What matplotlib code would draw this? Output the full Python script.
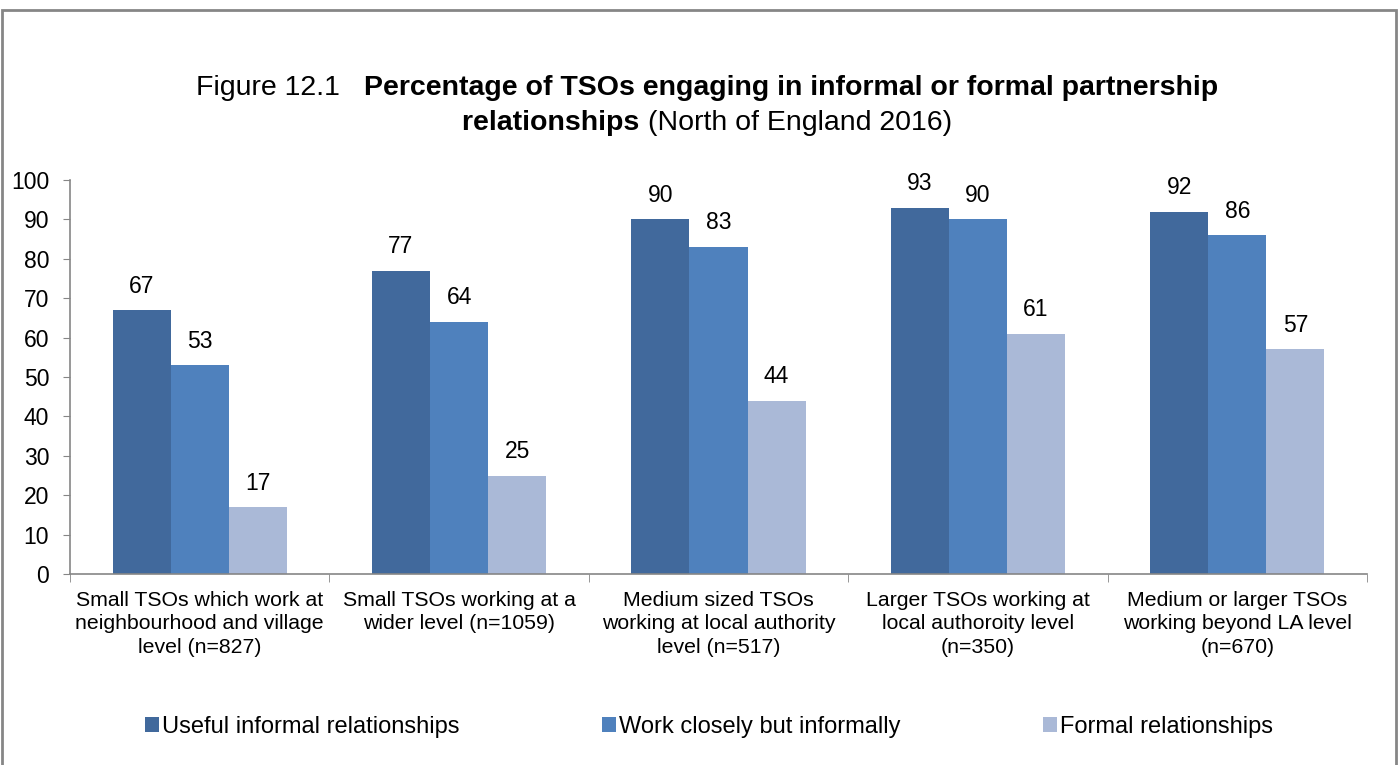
import numpy as np
import matplotlib
matplotlib.use("Agg")
import matplotlib.pyplot as plt
from matplotlib.patches import Rectangle, Patch

plt.rcParams['font.family'] = ['Liberation Sans', 'DejaVu Sans']

# data
categories = [
    "Small TSOs which work at\nneighbourhood and village\nlevel (n=827)",
    "Small TSOs working at a\nwider level (n=1059)",
    "Medium sized TSOs\nworking at local authority\nlevel (n=517)",
    "Larger TSOs working at\nlocal authoroity level\n(n=350)",
    "Medium or larger TSOs\nworking beyond LA level\n(n=670)",
]
series_names = ["Useful informal relationships", "Work closely but informally", "Formal relationships"]
useful_informal = [67, 77, 90, 93, 92]
work_closely = [53, 64, 83, 90, 86]
formal = [17, 25, 44, 61, 57]
colors = ['#41699C', '#4F81BD', '#AAB9D7']

fig = plt.figure(figsize=(14, 7.65), dpi=100)
ax = fig.add_axes([70 / 1400, 1 - 574 / 765, (1367 - 70) / 1400, (574 - 180) / 765])

x = np.arange(len(categories))
w = 0.224
axis_gray = '#868686'
for i, (vals, name) in enumerate(zip([useful_informal, work_closely, formal], series_names)):
    bars = ax.bar(x + (i - 1) * w, vals, width=w, color=colors[i], label=name, zorder=2)
    for b, v in zip(bars, vals):
        ax.annotate(f"{v}", (b.get_x() + b.get_width() / 2, v), xytext=(0, 9),
                    textcoords='offset points', ha='center', va='bottom', fontsize=16.5)

ax.set_xlim(-0.5, len(categories) - 0.5)
ax.set_ylim(0, 100)
ax.set_yticks(range(0, 101, 10))
ax.tick_params(axis='y', labelsize=16.5, length=5, color=axis_gray, pad=10)
ax.set_xticks(x)
ax.set_xticklabels(categories, fontsize=15.3, linespacing=1.3)
ax.tick_params(axis='x', length=0, pad=12)
ax.set_xticks(np.arange(-0.5, len(categories)), minor=True)
ax.tick_params(axis='x', which='minor', length=6, color=axis_gray)
for s in ['top', 'right']:
    ax.spines[s].set_visible(False)
for s in ['left', 'bottom']:
    ax.spines[s].set_color(axis_gray)
    ax.spines[s].set_linewidth(1.2)

# outer border of chart area
fig.patches.append(Rectangle((2 / 1400, -0.05), 1394 / 1400, 1.05 - 10 / 765,
                             transform=fig.transFigure, fill=False,
                             edgecolor=axis_gray, linewidth=2))

# title with mixed weights
fs = 20.5
renderer = fig.canvas.get_renderer()
y1 = 1 - 88 / 765
y2 = 1 - 123 / 765
p1 = fig.text(0, y1, "Figure 12.1   ", fontsize=fs, va='center')
p2 = fig.text(0, y1, "Percentage of TSOs engaging in informal or formal partnership",
              fontsize=fs, fontweight='bold', va='center')
q1 = fig.text(0, y2, "relationships ", fontsize=fs, fontweight='bold', va='center')
q2 = fig.text(0, y2, "(North of England 2016)", fontsize=fs, va='center')
cx = 707
for parts in [(p1, p2), (q1, q2)]:
    widths = [t.get_window_extent(renderer).width for t in parts]
    start = cx - sum(widths) / 2
    for t, wd in zip(parts, widths):
        t.set_x(start / 1400)
        start += wd

handles = [Patch(facecolor=c) for c in colors]
fig.legend(handles, series_names, loc='center', bbox_to_anchor=(709 / 1400, 1 - 727 / 765),
           ncol=3, frameon=False, fontsize=17, handlelength=0.6, handleheight=0.6,
           handletextpad=0.15, columnspacing=6.0)

fig.savefig("out.png", dpi=100)
